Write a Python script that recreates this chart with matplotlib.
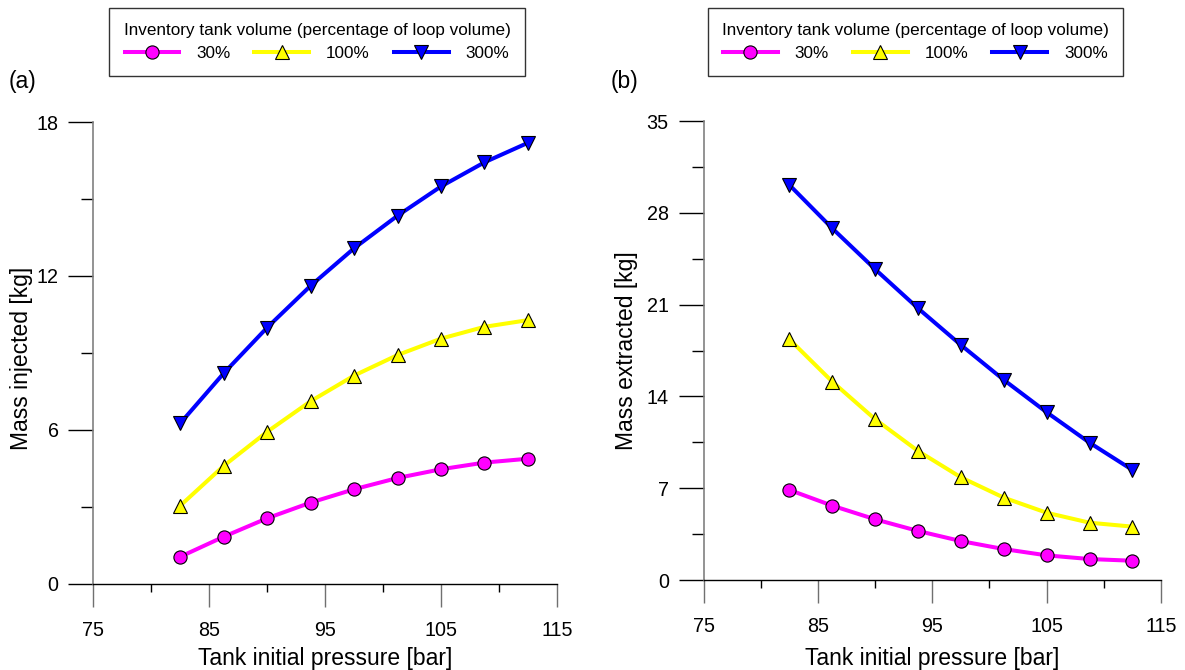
import matplotlib
matplotlib.use("Agg")
import matplotlib.pyplot as plt
from matplotlib.ticker import MultipleLocator

plt.rcParams["font.family"] = ["Liberation Sans", "DejaVu Sans"]

# tank initial pressure [bar]
pressure = [82.5, 86.25, 90.0, 93.75, 97.5, 101.25, 105.0, 108.75, 112.5]

# mass injected [kg], panel (a)
inj_30 = [1.06, 1.84, 2.56, 3.17, 3.69, 4.13, 4.47, 4.73, 4.88]
inj_100 = [3.05, 4.60, 5.93, 7.12, 8.12, 8.92, 9.56, 10.02, 10.28]
inj_300 = [6.26, 8.21, 9.99, 11.62, 13.08, 14.35, 15.49, 16.43, 17.19]

# mass extracted [kg], panel (b)
ext_30 = [6.87, 5.67, 4.63, 3.74, 2.97, 2.36, 1.88, 1.60, 1.47]
ext_100 = [18.36, 15.13, 12.26, 9.84, 7.83, 6.28, 5.13, 4.37, 4.07]
ext_300 = [30.13, 26.82, 23.70, 20.72, 17.92, 15.26, 12.79, 10.47, 8.39]

labels = ["30%", "100%", "300%"]
colors = ["#FF00FF", "#FFFF00", "#0000FF"]
markers = ["o", "^", "v"]
x_ticks = [75, 85, 95, 105, 115]


def style_axis(ax, ymax, ystep, ylabel, ylabel_xy, xlabel_y):
    ax.set_xlim(75, 115)
    ax.set_ylim(0, ymax)
    ax.set_xticks(x_ticks)
    ax.xaxis.set_minor_locator(MultipleLocator(5))
    ax.yaxis.set_major_locator(MultipleLocator(ystep))
    ax.yaxis.set_minor_locator(MultipleLocator(ystep / 2))
    for side in ["top", "right"]:
        ax.spines[side].set_visible(False)
    ax.spines["left"].set_color("#808080")
    ax.spines["left"].set_linewidth(1.2)
    ax.spines["bottom"].set_linewidth(1.0)
    ax.tick_params(axis="x", which="major", direction="out", length=16.5,
                   width=1.0, color="#707070", pad=10, labelsize=14.2)
    ax.tick_params(axis="x", which="minor", direction="out", length=6,
                   width=1.0, color="black")
    ax.tick_params(axis="y", which="major", direction="out", length=18,
                   width=1.0, color="black", pad=7, labelsize=14.2)
    ax.tick_params(axis="y", which="minor", direction="out", length=8.6,
                   width=1.0, color="black")
    ax.set_ylabel(ylabel, fontsize=16.5)
    ax.yaxis.set_label_coords(*ylabel_xy)
    ax.set_xlabel("Tank initial pressure [bar]", fontsize=16.5)
    ax.xaxis.set_label_coords(0.5, xlabel_y)
    ax.xaxis.label.set_va("center")
    ax.yaxis.label.set_va("center")


def draw_series(ax, series):
    handles = []
    for values, label, color, marker in zip(series, labels, colors, markers):
        (h,) = ax.plot(pressure, values, color=color, lw=2.9, marker=marker,
                       markersize=9.5, markerfacecolor=color,
                       markeredgecolor="black", markeredgewidth=0.8,
                       label=label, clip_on=False)
        handles.append(h)
    return handles


fig = plt.figure(figsize=(11.85, 6.7), dpi=100)
ax1 = fig.add_axes([0.0787, 0.1284, 0.3913, 0.6895])
ax2 = fig.add_axes([0.5937, 0.1343, 0.3861, 0.6851])

h1 = draw_series(ax1, [inj_30, inj_100, inj_300])
h2 = draw_series(ax2, [ext_30, ext_100, ext_300])

style_axis(ax1, 18, 6, "Mass injected [kg]", (-0.154, 0.489), -0.162)
style_axis(ax2, 35, 7, "Mass extracted [kg]", (-0.169, 0.5), -0.172)

title = "Inventory tank volume (percentage of loop volume)"
for handles, cx in [(h1, 0.2675), (h2, 0.7726)]:
    leg = fig.legend(handles=handles, labels=labels, title=title, ncol=3,
                     loc="upper center", bbox_to_anchor=(cx, 0.988),
                     fontsize=12.3, title_fontsize=12.3, frameon=True,
                     fancybox=False, edgecolor="black", handlelength=3.2,
                     handletextpad=1.0, columnspacing=1.4, borderpad=0.85,
                     labelspacing=0.5, borderaxespad=0.0)
    leg.get_frame().set_linewidth(1.0)

fig.text(0.019, 0.879, "(a)", fontsize=16.5, va="center", ha="center")
fig.text(0.5266, 0.879, "(b)", fontsize=16.5, va="center", ha="center")

fig.savefig("out.png", dpi=100)
